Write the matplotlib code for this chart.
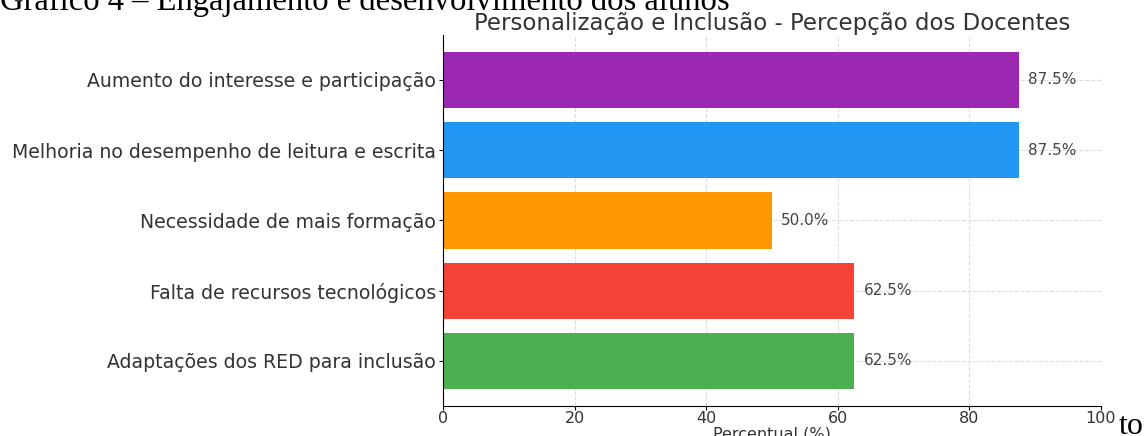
import matplotlib
matplotlib.use("Agg")
import matplotlib.pyplot as plt

categorias = [
    "Aumento do interesse e participação",
    "Melhoria no desempenho de leitura e escrita",
    "Necessidade de mais formação",
    "Falta de recursos tecnológicos",
    "Adaptações dos RED para inclusão",
]
percentuais = [87.5, 87.5, 50.0, 62.5, 62.5]
cores = ["#9C27B0", "#2196F3", "#FF9800", "#F44336", "#4CAF50"]
xticks = [0, 20, 40, 60, 80, 100]

fig = plt.figure(figsize=(11.45, 4.36), dpi=100)
ax = fig.add_axes([0.387, 0.069, 0.5745, 0.851])

# bars from top to bottom -> reverse the order on the y axis
pos = list(range(len(categorias)))[::-1]
ax.barh(pos, percentuais, color=cores, height=0.8, zorder=2)
for p, v in zip(pos, percentuais):
    ax.text(v + 1.4, p, f"{v:.1f}%", va="center", ha="left", fontsize=11, color="#444444", zorder=3)

ax.set_yticks(pos)
ax.set_yticklabels(categorias, fontsize=13.6, color="#333333")
ax.set_xlim(0, 100)
ax.set_xticks(xticks)
ax.set_xticklabels([str(t) for t in xticks], fontsize=11.5, color="#333333")
ax.set_xlabel("Percentual (%)", fontsize=11.5, color="#333333", labelpad=0)
ax.set_title("Personalização e Inclusão - Percepção dos Docentes", fontsize=16.5, color="#333333", pad=3)
ax.grid(True, linestyle="--", color="#dddddd", linewidth=0.8, zorder=0)
ax.set_axisbelow(True)
for s in ["top", "right"]:
    ax.spines[s].set_visible(False)
ax.tick_params(axis="x", length=3, pad=1)
ax.tick_params(axis="y", length=3, pad=2)

# surrounding document text
fig.text(0.0, 1 - 10 / 436, "Gráfico 4 – Engajamento e desenvolvimento dos alunos",
         fontsize=23.5, family="Liberation Serif", va="baseline", ha="left")
fig.text(1119 / 1145, 2 / 436, "to", fontsize=23, family="Liberation Serif", va="baseline", ha="left")

fig.savefig("out.png", dpi=100)
